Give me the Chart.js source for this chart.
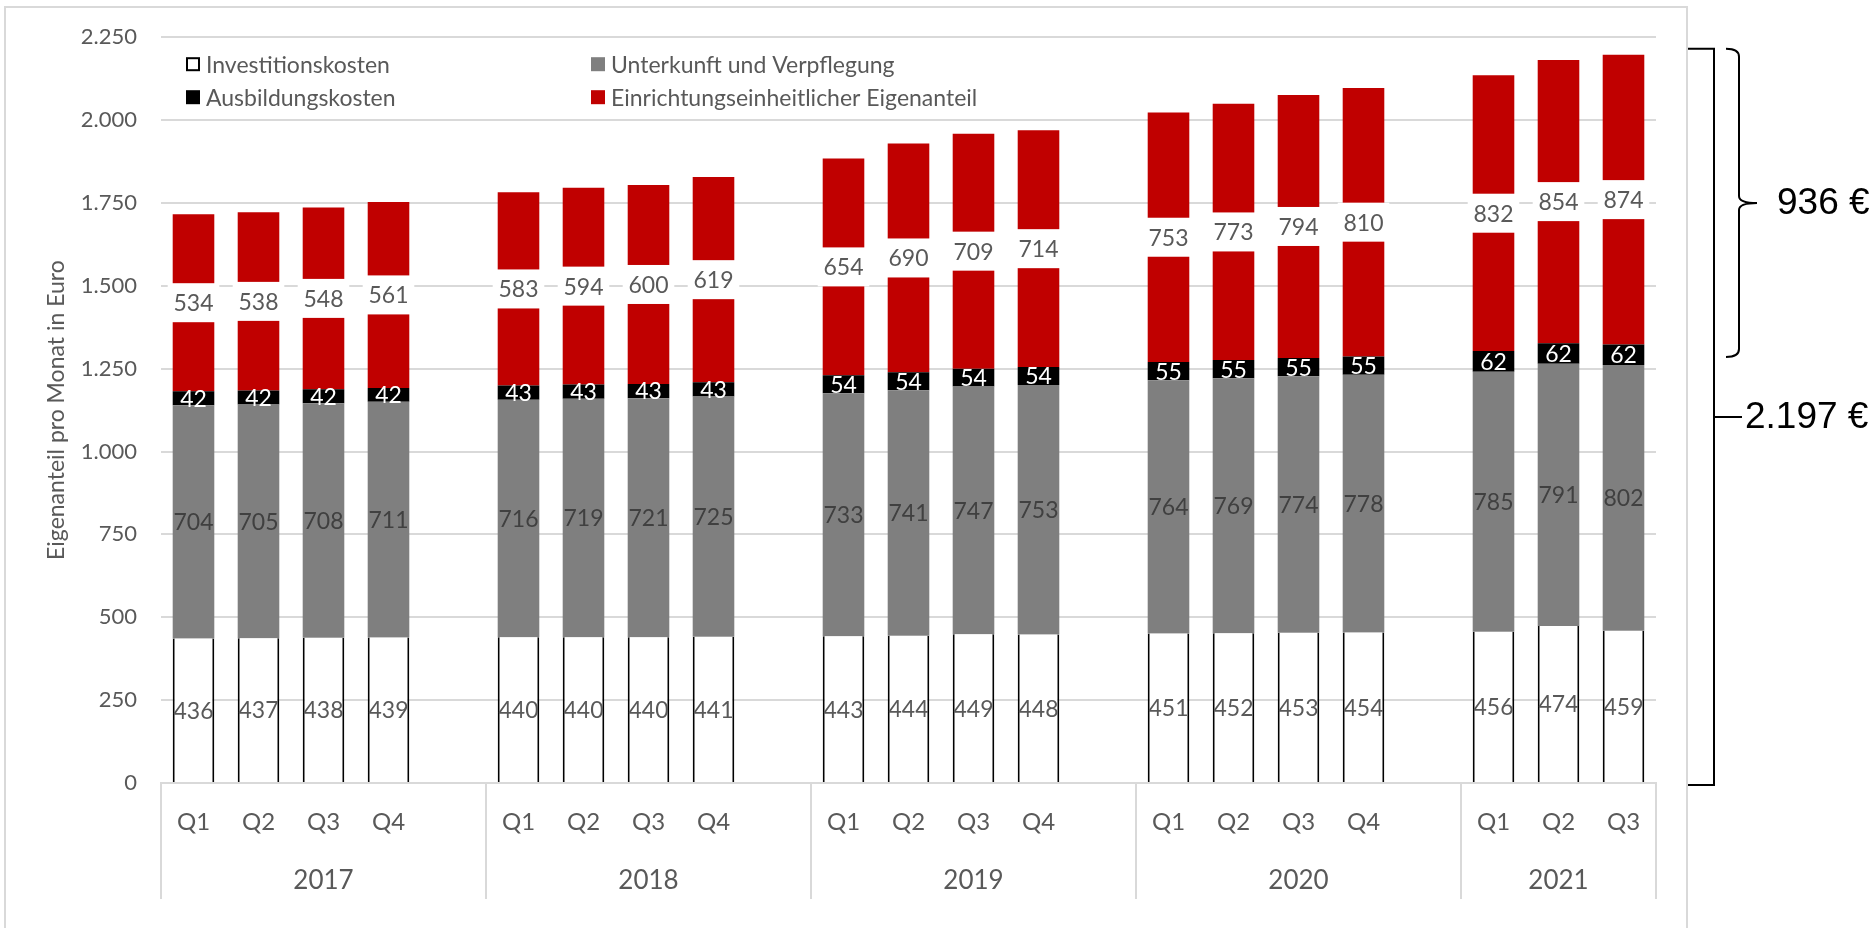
<!DOCTYPE html>
<html>
<head>
<meta charset="utf-8">
<script src="https://cdn.jsdelivr.net/npm/chart.js@4.4.0/dist/chart.umd.min.js"></script>
<style>
  html, body { margin: 0; padding: 0; background: #fff; }
  canvas { display: block; }
</style>
</head>
<body>
<canvas id="myChart" width="1870" height="928"></canvas>
<script>
// data
const years = ["2017", "2018", "2019", "2020", "2021"];
const quarters = [
  ["Q1", "Q2", "Q3", "Q4"],
  ["Q1", "Q2", "Q3", "Q4"],
  ["Q1", "Q2", "Q3", "Q4"],
  ["Q1", "Q2", "Q3", "Q4"],
  ["Q1", "Q2", "Q3"],
];
const investitionskosten = [436, 437, 438, 439, 440, 440, 440, 441, 443, 444, 449, 448, 451, 452, 453, 454, 456, 474, 459];
const unterkunft = [704, 705, 708, 711, 716, 719, 721, 725, 733, 741, 747, 753, 764, 769, 774, 778, 785, 791, 802];
const ausbildung = [42, 42, 42, 42, 43, 43, 43, 43, 54, 54, 54, 54, 55, 55, 55, 55, 62, 62, 62];
const eigenanteil = [534, 538, 548, 561, 583, 594, 600, 619, 654, 690, 709, 714, 753, 773, 794, 810, 832, 854, 874];
const yMax = 2250;
const yStep = 250;

const GRID = "#d9d9d9";
const TEXT = "#595959";

// one empty slot after each year except the last
function withGaps(values) {
  const out = [];
  let k = 0;
  quarters.forEach((qs, i) => {
    qs.forEach(() => out.push(values[k++]));
    if (i < quarters.length - 1) out.push(null);
  });
  return out;
}
const labels = withGaps(quarters.flat()).map((q) => q || "");

const fmt = (v) => v.toLocaleString("de-DE");

const frame = {
  id: "frame",
  beforeDraw(chart) {
    const ctx = chart.ctx;
    ctx.save();
    ctx.strokeStyle = GRID;
    ctx.lineWidth = 2;
    ctx.strokeRect(5, 7, chart.chartArea.right + 31 - 5, chart.height + 20);
    ctx.restore();
  },
};

const barLabels = {
  id: "barLabels",
  afterDatasetsDraw(chart) {
    const ctx = chart.ctx;
    ctx.save();
    ctx.font = "23px Lato";
    ctx.textAlign = "center";
    ctx.textBaseline = "middle";
    chart.data.datasets.forEach((ds, i) => {
      chart.getDatasetMeta(i).data.forEach((bar, j) => {
        const v = ds.data[j];
        if (v == null) return;
        const p = bar.getProps(["x", "y", "base", "width"], true);
        const y = (p.y + p.base) / 2;
        if (ds.labelBox) {
          ctx.fillStyle = "#ffffff";
          ctx.fillRect(p.x - p.width / 2 - 5, y - 19.5, p.width + 10, 39);
        }
        ctx.fillStyle = ds.labelColor;
        ctx.fillText(v, p.x, y + 1);
      });
    });
    ctx.restore();
  },
};

const groups = {
  id: "groups",
  afterDraw(chart) {
    const ctx = chart.ctx;
    const x = chart.scales.x;
    const slot = x.getPixelForValue(1) - x.getPixelForValue(0);
    const top = chart.chartArea.bottom;
    ctx.save();
    ctx.strokeStyle = GRID;
    ctx.lineWidth = 2;
    ctx.fillStyle = TEXT;
    ctx.font = "26px Lato";
    ctx.textAlign = "center";
    ctx.textBaseline = "middle";
    let start = 0;
    quarters.forEach((qs, i) => {
      const span = qs.length + (i < quarters.length - 1 ? 1 : 0);
      const x0 = x.getPixelForValue(start) - slot / 2;
      const x1 = x.getPixelForValue(start + span - 1) + slot / 2;
      [x0, x1].forEach((xx) => {
        ctx.beginPath();
        ctx.moveTo(xx, top);
        ctx.lineTo(xx, top + 116);
        ctx.stroke();
      });
      ctx.fillText(years[i], (x0 + x1) / 2, top + 98);
      start += span;
    });
    ctx.restore();
  },
};

const legendBox = {
  id: "legendBox",
  afterDraw(chart) {
    const ctx = chart.ctx;
    const a = chart.chartArea;
    const cols = [a.left + 25, a.left + 430];
    const rows = [a.top + 27, a.top + 60];
    ctx.save();
    ctx.font = "23px Lato";
    ctx.textBaseline = "middle";
    chart.data.datasets.forEach((ds, i) => {
      const bx = cols[i % 2];
      const by = rows[Math.floor(i / 2)];
      ctx.fillStyle = ds.backgroundColor;
      ctx.fillRect(bx, by - 7, 14, 14);
      if (ds.backgroundColor === "#ffffff") {
        ctx.strokeStyle = "#000";
        ctx.lineWidth = 2;
        ctx.strokeRect(bx + 1, by - 6, 12, 12);
      }
      ctx.fillStyle = TEXT;
      ctx.fillText(ds.label, bx + 20, by + 1);
    });
    ctx.restore();
  },
};

const brackets = {
  id: "brackets",
  afterDraw(chart) {
    const ctx = chart.ctx;
    const y = chart.scales.y;
    const r = chart.chartArea.right;
    const n = investitionskosten.length - 1;
    const total = investitionskosten[n] + unterkunft[n] + ausbildung[n] + eigenanteil[n];
    const upper = ausbildung[n] + eigenanteil[n];
    const yt = y.getPixelForValue(total) - 6;
    const yb = y.getPixelForValue(0) + 2;
    const ym = (yt + yb) / 2;
    const ybb = y.getPixelForValue(total - upper) - 8;
    const ymb = (yt + ybb) / 2;
    ctx.save();
    ctx.strokeStyle = "#000";
    ctx.lineWidth = 2;
    // square bracket for the total
    ctx.beginPath();
    ctx.moveTo(r + 32, yt);
    ctx.lineTo(r + 58, yt);
    ctx.lineTo(r + 58, yb);
    ctx.lineTo(r + 32, yb);
    ctx.moveTo(r + 58, ym);
    ctx.lineTo(r + 86, ym);
    ctx.stroke();
    // curly brace for the upper part
    const x0 = r + 70, x1 = r + 83, xc = r + 101;
    ctx.beginPath();
    ctx.moveTo(x0, yt);
    ctx.quadraticCurveTo(x1, yt, x1, yt + 8);
    ctx.lineTo(x1, ymb - 7);
    ctx.quadraticCurveTo(x1, ymb, xc, ymb);
    ctx.quadraticCurveTo(x1, ymb, x1, ymb + 7);
    ctx.lineTo(x1, ybb - 8);
    ctx.quadraticCurveTo(x1, ybb, x0, ybb);
    ctx.stroke();
    ctx.fillStyle = "#000";
    ctx.font = "37px 'Liberation Sans'";
    ctx.textBaseline = "middle";
    ctx.fillText(fmt(upper) + " €", r + 121, ymb + 1);
    ctx.fillText(fmt(total) + " €", r + 89, ym + 1);
    ctx.restore();
  },
};

const ctx = document.getElementById("myChart");
new Chart(ctx, {
  type: "bar",
  data: {
    labels: labels,
    datasets: [
      {
        label: "Investitionskosten",
        data: withGaps(investitionskosten),
        backgroundColor: "#ffffff",
        borderColor: "#000000",
        borderWidth: { left: 2, right: 2, top: 0, bottom: 0 },
        labelColor: TEXT,
      },
      {
        label: "Unterkunft und Verpflegung",
        data: withGaps(unterkunft),
        backgroundColor: "#7f7f7f",
        labelColor: "#404040",
      },
      {
        label: "Ausbildungskosten",
        data: withGaps(ausbildung),
        backgroundColor: "#000000",
        labelColor: "#ffffff",
      },
      {
        label: "Einrichtungseinheitlicher Eigenanteil",
        data: withGaps(eigenanteil),
        backgroundColor: "#c00000",
        labelColor: TEXT,
        labelBox: true,
      },
    ],
  },
  options: {
    responsive: false,
    animation: false,
    devicePixelRatio: 1,
    barPercentage: 0.64,
    categoryPercentage: 1,
    layout: { padding: { top: 36, right: 214, bottom: 0, left: 0 } },
    plugins: {
      legend: { display: false },
      tooltip: { enabled: false },
    },
    scales: {
      x: {
        stacked: true,
        grid: { display: false, drawTicks: false },
        border: { display: true, color: GRID, width: 2 },
        ticks: {
          color: TEXT,
          font: { family: "Lato", size: 24 },
          padding: 25,
          autoSkip: false,
          maxRotation: 0,
        },
        afterFit(scale) {
          scale.height = 145;
        },
      },
      y: {
        stacked: true,
        min: 0,
        max: yMax,
        grid: { color: GRID, lineWidth: 2, drawTicks: false },
        border: { display: false },
        ticks: {
          stepSize: yStep,
          color: TEXT,
          font: { family: "Lato", size: 22 },
          padding: 24,
          callback: (v) => fmt(v),
        },
        title: {
          display: true,
          text: "Eigenanteil pro Monat in Euro",
          color: TEXT,
          font: { family: "Lato", size: 23 },
          padding: { top: 43, bottom: 0 },
        },
        afterFit(scale) {
          scale.width = 161;
        },
      },
    },
  },
  plugins: [frame, barLabels, groups, legendBox, brackets],
});
</script>
</body>
</html>
